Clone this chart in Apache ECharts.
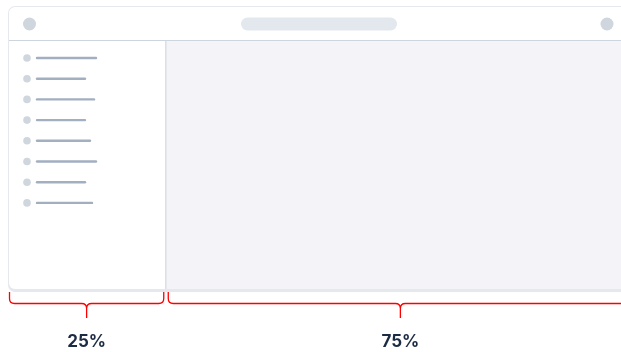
<!DOCTYPE html>
<html>
<head>
<meta charset="utf-8">
<script src="https://cdn.jsdelivr.net/npm/echarts@6/dist/echarts.min.js"></script>
<style>html,body{margin:0;padding:0;background:#fff;}#c{width:621px;height:352px;}</style>
</head>
<body>
<div id="c"></div>
<script>
// Layout split (percent of the window width)
var segmentLabels = ['25%', '75%'];
var segmentShares = [25, 75];
// Sidebar menu placeholder line lengths (relative units)
var menuItems = ['a', 'b', 'c', 'd', 'e', 'f', 'g', 'h'];
var menuLineLengths = [60, 49, 58, 49, 54, 60, 49, 56];

var starts = [];
(function () { var s = 0; for (var i = 0; i < segmentShares.length; i++) { starts.push(s); s += segmentShares[i]; } })();
var segData = segmentShares.map(function (v, i) { return [starts[i], starts[i] + v, i]; });

var chart = echarts.init(document.getElementById('c'), null, { renderer: 'canvas' });

var option = {
  animation: false,
  backgroundColor: '#ffffff',
  grid: [
    { left: 9, top: 7, right: -13, height: 284, outerBoundsMode: 'none', containLabel: false },
    { left: 36, top: 47.65, width: 100, height: 165.6, outerBoundsMode: 'none' }
  ],
  xAxis: [
    { type: 'value', gridIndex: 0, min: 0, max: 100, show: false },
    { type: 'value', gridIndex: 1, min: 0, max: 100, show: false }
  ],
  yAxis: [
    { type: 'value', gridIndex: 0, min: 0, max: 1, show: false },
    { type: 'category', gridIndex: 1, data: menuItems, inverse: true, show: false }
  ],
  graphic: [
    { type: 'rect', z: 0, shape: { x: 8, y: 6, width: 640, height: 286, r: 7 }, style: { fill: '#e5e9ee' } },
    { type: 'rect', z: 5, shape: { x: 9, y: 7, width: 638, height: 33, r: [6, 6, 0, 0] }, style: { fill: '#ffffff' } },
    { type: 'rect', z: 5, shape: { x: 9, y: 40, width: 638, height: 1 }, style: { fill: '#cdd6de' } },
    { type: 'circle', z: 6, shape: { cx: 29.5, cy: 24, r: 6.5 }, style: { fill: '#cfd6dd' } },
    { type: 'rect', z: 6, shape: { x: 241, y: 17.5, width: 156, height: 13, r: 6.5 }, style: { fill: '#e3e8ee' } },
    { type: 'circle', z: 6, shape: { cx: 607, cy: 24, r: 6.5 }, style: { fill: '#cfd6dd' } }
  ],
  series: [
    {
      type: 'custom', xAxisIndex: 0, yAxisIndex: 0, z: 2, silent: true,
      data: segData,
      renderItem: function (params, api) {
        var cs = params.coordSys;
        var i = api.value(2);
        var xs = api.coord([api.value(0), 0])[0];
        var xe = api.coord([api.value(1), 0])[0];
        var top = cs.y + 34, bottom = cs.y + cs.height - 2;
        var children = [];
        if (i === 0) {
          children.push({ type: 'rect', shape: { x: xs, y: top, width: xe - xs, height: bottom - top, r: [0, 0, 0, 6] }, style: { fill: '#ffffff' } });
        } else {
          children.push({ type: 'rect', shape: { x: xs, y: top, width: 640, height: bottom - top }, style: { fill: '#f4f4f8' } });
          children.push({ type: 'rect', shape: { x: xs, y: top, width: 1.2, height: bottom - top }, style: { fill: '#d2dbe1' } });
        }
        // brace
        var bx0 = i === 0 ? xs + 0.5 : xs + 3;
        var bx1 = xe - 1.5;
        var xm = (bx0 + bx1) / 2;
        var y0 = 292, yh = 303.5, yt = 318, r = 5;
        var path = 'M' + bx0 + ' ' + y0 + ' L' + bx0 + ' ' + (yh - r) + ' Q' + bx0 + ' ' + yh + ' ' + (bx0 + r) + ' ' + yh +
          ' L' + (xm - r) + ' ' + yh + ' Q' + xm + ' ' + yh + ' ' + xm + ' ' + (yh + r) + ' L' + xm + ' ' + yt +
          ' M' + xm + ' ' + (yh + r) + ' Q' + xm + ' ' + yh + ' ' + (xm + r) + ' ' + yh +
          ' L' + (bx1 - r) + ' ' + yh + ' Q' + bx1 + ' ' + yh + ' ' + bx1 + ' ' + (yh - r) + ' L' + bx1 + ' ' + y0;
        children.push({ type: 'path', shape: { pathData: path }, style: { fill: 'none', stroke: '#ff0000', lineWidth: 1.3 } });
        children.push({ type: 'text', style: { x: xm, y: 342, text: segmentLabels[i], fill: '#1c2b44', font: 'bold 17px Inter, Roboto, sans-serif', align: 'center', verticalAlign: 'middle' } });
        return { type: 'group', children: children };
      }
    },
    {
      type: 'custom', xAxisIndex: 1, yAxisIndex: 1, z: 4, silent: true,
      data: menuLineLengths.map(function (v, i) { return [v, i]; }),
      renderItem: function (params, api) {
        var p0 = api.coord([0, api.value(1)]);
        var p1 = api.coord([api.value(0), api.value(1)]);
        return { type: 'group', children: [
          { type: 'circle', shape: { cx: p0[0] - 9, cy: p0[1], r: 3.8 }, style: { fill: '#cfd6dd' } },
          { type: 'line', shape: { x1: p0[0] + 1, y1: p0[1], x2: p1[0], y2: p1[1] }, style: { stroke: '#a2afc1', lineWidth: 2.4, lineCap: 'round' } }
        ] };
      }
    }
  ]
};
chart.setOption(option);
</script>
</body>
</html>
